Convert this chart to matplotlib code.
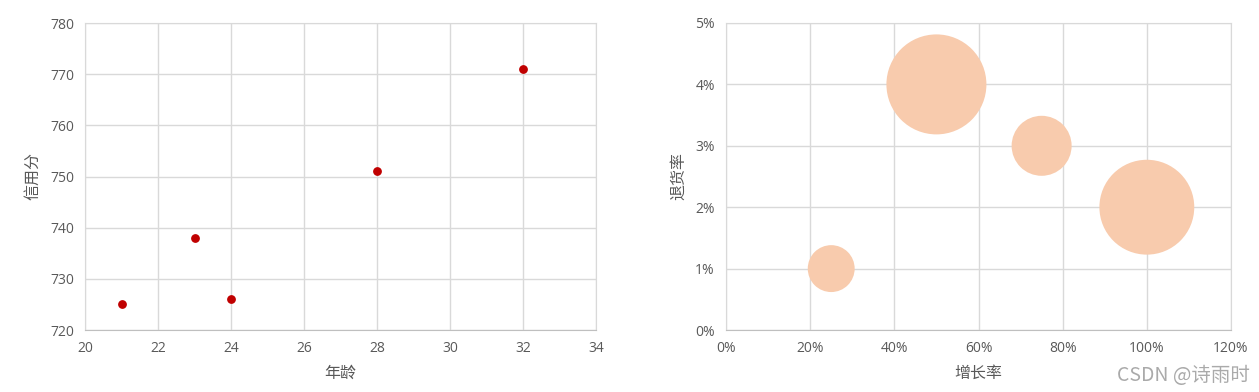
import matplotlib
matplotlib.use("Agg")
import matplotlib.pyplot as plt
from matplotlib.ticker import PercentFormatter, MultipleLocator

plt.rcParams["font.family"] = ["Open Sans", "Noto Sans CJK SC", "DejaVu Sans"]

# left: 年龄 vs 信用分
ages = [21, 23, 24, 28, 32]
credit = [725, 738, 726, 751, 771]

# right: bubble chart
growth = [0.25, 0.50, 0.75, 1.00]
returns = [0.01, 0.04, 0.03, 0.02]
bubble_size = [0.22, 1.00, 0.36, 0.90]

GRID = "#D9D9D9"
TEXT = "#595959"

fig = plt.figure(figsize=(12.59, 3.92), dpi=100)
ax1 = fig.add_axes([85 / 1259, 1 - 330 / 392, 511 / 1259, 307 / 392])
ax2 = fig.add_axes([726 / 1259, 1 - 330 / 392, 505 / 1259, 307 / 392])


def style(ax):
    ax.grid(True, color=GRID, linewidth=1)
    ax.set_axisbelow(True)
    for side in ["top", "right", "left"]:
        ax.spines[side].set_color(GRID)
    ax.spines["bottom"].set_color("#BFBFBF")
    ax.tick_params(length=0, labelsize=10, labelcolor=TEXT, pad=8)


ax1.scatter(ages, credit, s=28, color="#C00000", zorder=3)
ax1.set_xlim(20, 34)
ax1.set_ylim(720, 780)
ax1.xaxis.set_major_locator(MultipleLocator(2))
ax1.yaxis.set_major_locator(MultipleLocator(10))
ax1.set_xlabel("年龄", fontsize=11.5, color=TEXT, labelpad=6,
               family=["Noto Sans CJK SC"])
ax1.set_ylabel("信用分", fontsize=11.5, color=TEXT, labelpad=6,
               family=["Noto Sans CJK SC"])
style(ax1)

# max bubble ~100 px across -> 72 pt diameter
sizes = [v * 72 ** 2 for v in bubble_size]
ax2.scatter(growth, returns, s=sizes, color="#F8CBAD", zorder=3, linewidths=0)
ax2.set_xlim(0, 1.2)
ax2.set_ylim(0, 0.05)
ax2.xaxis.set_major_locator(MultipleLocator(0.2))
ax2.yaxis.set_major_locator(MultipleLocator(0.01))
ax2.xaxis.set_major_formatter(PercentFormatter(1.0, decimals=0))
ax2.yaxis.set_major_formatter(PercentFormatter(1.0, decimals=0))
ax2.set_xlabel("增长率", fontsize=11.5, color=TEXT, labelpad=6,
               family=["Noto Sans CJK SC"])
ax2.set_ylabel("退货率", fontsize=11.5, color=TEXT, labelpad=6,
               family=["Noto Sans CJK SC"])
style(ax2)

fig.text(0.993, 0.043, "CSDN @诗雨时", ha="right", va="center",
         fontsize=14, color="#AAAAAA", family=["Noto Sans CJK SC"])

fig.savefig("out.png", dpi=100)
